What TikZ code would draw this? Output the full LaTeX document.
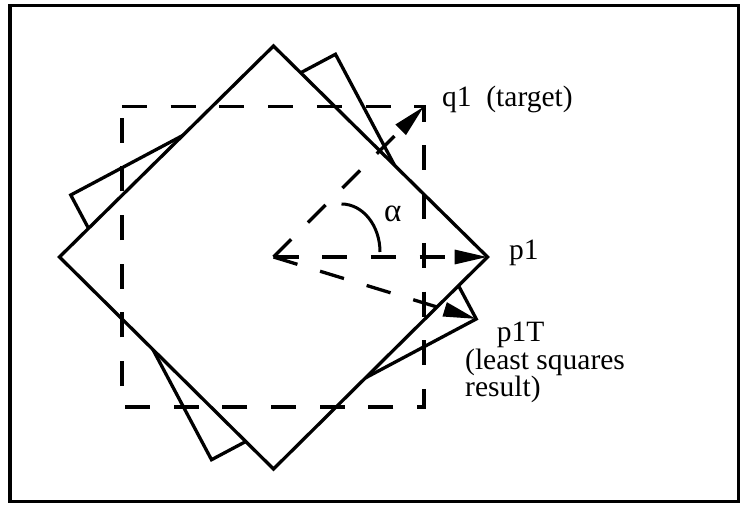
\documentclass[tikz,border=0pt]{standalone}
\usepackage{fontspec}
\setmainfont{Liberation Serif}
\usetikzlibrary{arrows.meta,positioning}
\tikzset{
outerbox/.style={draw=black,line width=3.2bp},
sq/.style={draw=black,fill=white,line width=3.3bp,line join=miter},
dashsq/.style={draw=black,line width=3.3bp,dash pattern=on 25bp off 23.7bp},
ray/.style={draw=black,line width=3.3bp,dash pattern=on 25bp off 23.7bp,-{Triangle[length=33bp,width=14bp]}},
anglearc/.style={draw=black,line width=3bp},
lbl/.style={inner sep=0pt,font=\fontsize{29.5bp}{25.5bp}\selectfont}
}

\begin{document}
\begin{tikzpicture}[x=1bp,y=1bp]
\useasboundingbox (-273.5,-248) rectangle (469.5,257);
\draw[outerbox] (-263.5,-244.5) rectangle (465,251.5);
% points
\coordinate (o) at (0,0);
\coordinate (p1) at (214,0);
\coordinate (q1) at (150.5,150.5);
\coordinate (p1T) at (-17:212);
% squares, the rotated one lies behind
\draw[sq] (p1T) -- (73:212) -- (163:212) -- (253:212) -- cycle;
\draw[sq] (p1) -- (0,211) -- (-214,0) -- (0,-212) -- cycle;
\draw[dashsq] (-151.5,150.5) -- (150.5,150.5) -- (150.5,-150) -- (-151.5,-150) -- cycle;
% rotation
\draw[ray] (o) -- (q1);
\draw[ray] (o) -- (p1);
\draw[ray] (o) -- (p1T);
\draw[anglearc] (68,53) arc[start angle=90,end angle=0,x radius=38.5,y radius=48];
\node[lbl,font=\fontsize{33bp}{30bp}\selectfont,anchor=base west] (alpha) at (110.5,35.3) {α};
\node[lbl,anchor=base west] (q1lab) at ([xshift=18bp,yshift=-0.5bp]q1) {q1~~(target)};
\node[lbl,right=21.5bp of p1,anchor=mid west] (p1lab) {p1};
\node[lbl,anchor=base west] (p1Tlab) at ([xshift=20.5bp,yshift=-22.7bp]p1T) {p1T};
\node[lbl,anchor=north west,align=left] (note) at (191.5,-91.5) {(least squares\\result)};
\end{tikzpicture}
\end{document}
